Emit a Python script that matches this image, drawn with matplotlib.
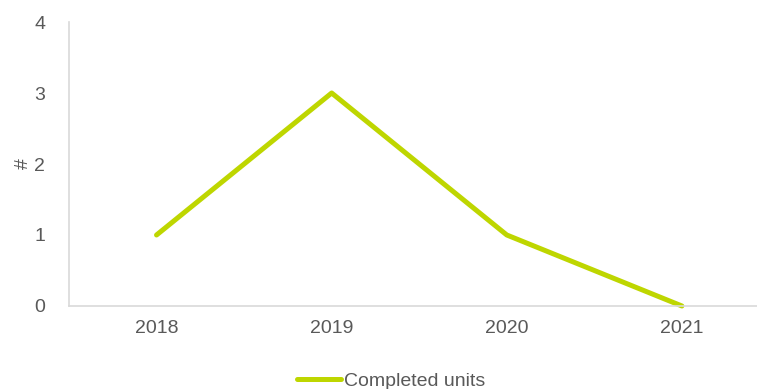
import matplotlib.pyplot as plt

years = ["2018", "2019", "2020", "2021"]
completed_units = [1, 3, 1, 0]

line_color = "#bed600"
text_color = "#595959"
axis_color = "#d9d9d9"

plt.rcParams["font.family"] = ["Liberation Sans", "DejaVu Sans"]

fig = plt.figure(figsize=(7.57, 3.89), dpi=100)
ax = fig.add_axes([0.0911, 0.2134, 0.9254, 0.730])

x = range(len(years))
ax.plot(x, completed_units, color=line_color, linewidth=3.6,
        solid_capstyle="round", solid_joinstyle="round",
        label="Completed units", clip_on=False)

ax.set_xlim(-0.5, len(years) - 0.5)
ax.set_ylim(0, 4)
ax.set_xticks(list(x))
ax.set_xticklabels(years)
ax.set_yticks([0, 1, 2, 3, 4])
ax.tick_params(axis="both", length=0, labelsize=14, colors=text_color)
ax.tick_params(axis="x", pad=10)
ax.tick_params(axis="y", pad=17)

for side in ["top", "right"]:
    ax.spines[side].set_visible(False)
for side in ["left", "bottom"]:
    ax.spines[side].set_color(axis_color)
    ax.spines[side].set_linewidth(1.2)

ax.set_ylabel("#", fontsize=14, color=text_color, labelpad=2)

leg = ax.legend(loc="upper center", bbox_to_anchor=(0.46, -0.185), frameon=False,
                fontsize=14, handlelength=2.3, handletextpad=0.15,
                borderpad=0.2)
for t in leg.get_texts():
    t.set_color(text_color)

fig.savefig("out.png", dpi=100)
